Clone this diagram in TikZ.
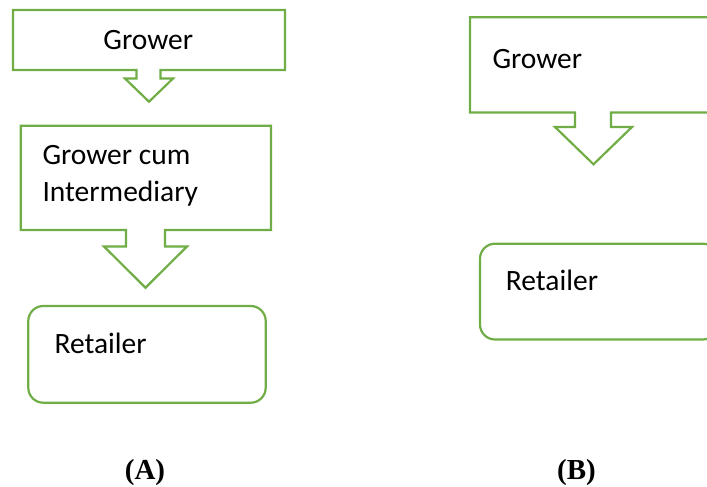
\documentclass[tikz,border=0pt]{standalone}
\usepackage{fontspec}
\setmainfont{Carlito}
\newfontfamily\capfont{Liberation Serif}
\definecolor{grn}{HTML}{70AD47}
\begin{document}
\begin{tikzpicture}[x=1pt,y=-1pt,
  shapeline/.style={draw=grn,line width=2.2pt,line join=miter},
  roundbox/.style={draw=grn,line width=2.2pt,rounded corners=15pt},
  boxtext/.style={font=\fontsize{29.5}{37}\selectfont,inner sep=0pt},
  captext/.style={font=\capfont\bfseries\fontsize{29}{32}\selectfont,inner sep=0pt}]
\useasboundingbox (0,0) rectangle (707,487);
\clip (0,0) rectangle (707,487);
% (A) Grower callout
\draw[shapeline] (13,10) -- (285,10) -- (285,70) -- (160.5,70) -- (160.5,78.5) -- (173,78.5)
  -- (149,101.7) -- (125,78.5) -- (136.5,78.5) -- (136.5,70) -- (13,70) -- cycle;
% (A) Grower cum Intermediary callout
\draw[shapeline] (20.7,125.7) -- (271,125.7) -- (271,230) -- (165,230) -- (165,246.5) -- (187,246.5)
  -- (145.5,287.7) -- (104,246.5) -- (126,246.5) -- (126,230) -- (20.7,230) -- cycle;
% (A) Retailer
\draw[roundbox] (28.3,306) rectangle (265.7,402.7);
% (B) Grower callout
\draw[shapeline] (470,17.3) -- (730,17.3) -- (730,112.5) -- (611,112.5) -- (611,127) -- (632,127)
  -- (593.5,164.3) -- (555,127) -- (575,127) -- (575,112.5) -- (470,112.5) -- cycle;
% (B) Retailer
\draw[roundbox] (480,243.7) rectangle (718,339.5);
% texts
\node[boxtext,anchor=base] (agrower) at (148.3,49.3) {Grower};
\node[boxtext,anchor=base west] (acum) at (42.3,164.3) {Grower cum};
\node[boxtext,anchor=base west] (ainter) at (42.3,201.3) {Intermediary};
\node[boxtext,anchor=base west] (aret) at (54.3,353.3) {Retailer};
\node[boxtext,anchor=base west] (bgrower) at (492.3,68.3) {Grower};
\node[boxtext,anchor=base west] (bret) at (505.7,290.7) {Retailer};
\node[captext,anchor=base] (labA) at (145,479.3) {(A)};
\node[captext,anchor=base] (labB) at (576.5,479.3) {(B)};
\end{tikzpicture}
\end{document}
